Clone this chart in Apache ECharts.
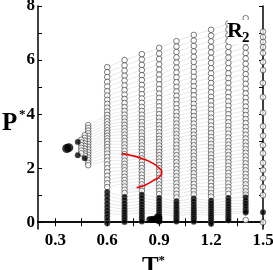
<!DOCTYPE html>
<html><head><meta charset="utf-8">
<script src="https://cdn.jsdelivr.net/npm/echarts@6/dist/echarts.min.js"></script>
<style>html,body{margin:0;padding:0;background:#fff}#c{width:273px;height:270px}</style>
</head><body><div id="c"></div>
<script>
// ---- data ----
const X_TICK_LABELS = [0.3, 0.6, 0.9, 1.2, 1.5];
const X_TICKS = [0.3, 0.45, 0.6, 0.75, 0.9, 1.05, 1.2, 1.35, 1.5];
const Y_TICK_LABELS = [0, 2, 4, 6, 8];
const Y_TICKS = [0, 1, 2, 3, 4, 5, 6, 7, 8];

const open_T06 = [5.74,5.55,5.37,5.19,5.02,4.85,4.69,4.53,4.38,4.24,4.1,3.97,3.85,3.73,3.62,3.51,3.4,3.3,3.2,3.1,3.0,2.89,2.78,2.66,2.54,2.41,2.28,2.14,2.0,1.86,1.72,1.58,1.44,1.3];
const fill_T06 = [1.12,0.98,0.84,0.7,0.57,0.44,0.32,0.2,0.08,-0.04];
const open_T07 = [6.0,5.8,5.61,5.42,5.24,5.06,4.89,4.72,4.56,4.41,4.26,4.12,3.98,3.85,3.72,3.6,3.48,3.36,3.24,3.12,3.0,2.88,2.76,2.64,2.52,2.4,2.28,2.16,2.04,1.92,1.8,1.68,1.56,1.44,1.32,1.2,1.08];
const fill_T07 = [0.94,0.82,0.7,0.59,0.48,0.38,0.28,0.19,0.1,0.01];
const open_T08 = [6.22,6.02,5.82,5.63,5.44,5.26,5.08,4.91,4.74,4.58,4.42,4.27,4.12,3.98,3.84,3.71,3.58,3.45,3.32,3.2,3.08,2.96,2.84,2.72,2.6,2.48,2.36,2.24,2.12,2.0,1.88,1.76,1.64,1.52,1.4,1.28,1.16];
const fill_T08 = [1.02,0.9,0.78,0.67,0.56,0.46,0.36,0.27,0.18,0.1,0.03];
const open_T09 = [6.45,6.24,6.04,5.84,5.65,5.46,5.28,5.1,4.93,4.76,4.6,4.44,4.29,4.14,4.0,3.86,3.72,3.59,3.46,3.33,3.2,3.08,2.96,2.84,2.72,2.6,2.48,2.36,2.24,2.12,2.0,1.88,1.76,1.64,1.52,1.4,1.28,1.16,1.04];
const fill_T09 = [0.9,0.79,0.68,0.58,0.48,0.39,0.3,0.22,0.14,0.07];
const open_T10 = [6.7,6.5,6.3,6.1,5.91,5.72,5.54,5.36,5.18,5.01,4.84,4.68,4.52,4.37,4.22,4.07,3.93,3.79,3.65,3.52,3.39,3.26,3.13,3.0,2.87,2.74,2.61,2.48,2.35,2.22,2.09,1.96,1.83,1.7,1.57,1.44,1.31,1.18,1.05,0.92];
const fill_T10 = [0.78,0.68,0.58,0.49,0.4,0.32,0.24,0.17,0.1,0.03];
const open_T11 = [6.93,6.72,6.52,6.32,6.12,5.93,5.74,5.56,5.38,5.2,5.03,4.86,4.7,4.54,4.38,4.23,4.08,3.93,3.79,3.65,3.51,3.37,3.24,3.11,2.98,2.85,2.72,2.59,2.46,2.33,2.2,2.07,1.94,1.81,1.68,1.55,1.42,1.29,1.16,1.03];
const fill_T11 = [0.88,0.77,0.66,0.56,0.47,0.38,0.3,0.22,0.15,0.08,0.02];
const open_T12 = [7.12,6.9,6.69,6.48,6.28,6.08,5.89,5.7,5.51,5.33,5.15,4.98,4.81,4.64,4.48,4.32,4.17,4.02,3.87,3.72,3.58,3.44,3.3,3.16,3.03,2.9,2.77,2.64,2.51,2.38,2.25,2.12,1.99,1.86,1.73,1.6,1.47,1.34,1.21,1.08,0.95];
const fill_T12 = [0.8,0.7,0.6,0.51,0.42,0.34,0.26,0.18,0.1,0.02,-0.06];
const open_T13 = [7.35,7.13,6.91,6.7,6.49,6.29,6.09,5.89,5.7,5.51,5.33,5.15,4.97,4.8,4.63,4.47,4.31,4.15,4.0,3.85,3.7,3.56,3.42,3.28,3.14,3.0,2.87,2.74,2.61,2.48,2.35,2.22,2.09,1.96,1.83,1.7,1.57,1.44,1.31,1.18,1.05];
const fill_T13 = [0.9,0.79,0.68,0.58,0.48,0.39,0.3,0.22,0.14,0.07];
const open_T14 = [7.55,7.32,7.1,6.88,6.67,6.46,6.26,6.06,5.86,5.67,5.48,5.3,5.12,4.94,4.77,4.6,4.44,4.28,4.12,3.97,3.82,3.67,3.52,3.38,3.24,3.1,2.96,2.83,2.7,2.57,2.44,2.31,2.18,2.05,1.92,1.79,1.66,1.53,1.4,1.27,1.14,1.02,0.08];
const fill_T14 = [0.92,0.8,0.7,0.6,0.5,0.42,0.36];
const open_T15 = [7.05,6.85,6.67,6.48,6.26,5.93,5.63,5.15,4.63,4.05,3.55,3.2,2.85,2.55,2.2,1.93,1.63,1.3,1.0,0.0];
const fill_T15 = [0.37];

// low-temperature cluster
const open_T049 = [3.59,3.49,3.39,3.29,3.19,3.09,2.99,2.89,2.79,2.69,2.59,2.49,2.39,2.3,2.2,2.11];
const open_T047 = [3.22,3.12,3.02,2.92,2.82,2.72,2.62,2.54,2.46];
const fill_T047 = [2.37];
const open_T045 = [3.05,2.95,2.85,2.75,2.65,2.55];
const fill_T043 = [2.97,2.48];
const bigDotT = [0.366, 0.378];
const bigDotP = [2.73, 2.76];
// filled wedge near T=0.9, P~0.1
const blobT = [0.845,0.855,0.865,0.875,0.885,0.895,0.9,0.9,0.89];
const blobP = [0.1,0.1,0.12,0.1,0.14,0.1,0.16,0.04,0.2];

// red boundary curve
const redT = [0.684,0.74,0.8,0.867,0.9,0.915,0.905,0.867,0.818,0.77];
const redP = [2.54,2.47,2.36,2.17,2.0,1.86,1.7,1.55,1.37,1.28];

// ---- build ----
const openCols = [[0.6,open_T06],[0.7,open_T07],[0.8,open_T08],[0.9,open_T09],[1.0,open_T10],[1.1,open_T11],[1.2,open_T12],[1.3,open_T13],[1.4,open_T14],[1.5,open_T15],[0.49,open_T049],[0.47,open_T047],[0.45,open_T045]];
const fillCols = [[0.6,fill_T06],[0.7,fill_T07],[0.8,fill_T08],[0.9,fill_T09],[1.0,fill_T10],[1.1,fill_T11],[1.2,fill_T12],[1.3,fill_T13],[1.4,fill_T14],[1.5,fill_T15],[0.47,fill_T047],[0.43,fill_T043]];
const openData = [], fillData = [];
openCols.forEach(([t, arr]) => arr.forEach(p => openData.push([t, p])));
fillCols.forEach(([t, arr]) => arr.forEach(p => fillData.push([t, p])));
const blobData = blobT.map((t, i) => [t, blobP[i]]);

const series = [];
const faint = {color:'rgba(0,0,0,0.11)', width:0.8};
const lineCols = openCols.slice(0, 9);
const maxLen = Math.max(...lineCols.map(c => c[1].length));
for (let i = 0; i < maxLen; i++) {
  const d = lineCols.filter(c => c[1][i] !== undefined && c[1][i] > 0.5).map(c => [c[0], c[1][i]]);
  if (d.length > 1) series.push({type:'line', data:d, symbol:'none', silent:true, z:1, lineStyle:faint});
}
for (let i = 0; i < open_T049.length; i++) {
  const j = i + 11;
  if (open_T06[j] === undefined) continue;
  series.push({type:'line', data:[[0.49, open_T049[i]], [0.6, open_T06[j]]], symbol:'none', silent:true, z:1, lineStyle:faint});
}
const fillLineCols = fillCols.slice(0, 9);
for (let i = 0; i < 7; i++) {
  const d = fillLineCols.filter(c => c[1][i] !== undefined).map(c => [c[0], c[1][i]]);
  if (d.length > 1) series.push({type:'line', data:d, symbol:'none', silent:true, z:1, lineStyle:faint});
}
series.push({type:'scatter', data:openData, symbol:'circle', symbolSize:5.6, z:3,
  itemStyle:{color:'#fff', borderColor:'#333', borderWidth:0.8}});
series.push({type:'scatter', data:fillData, symbol:'circle', symbolSize:5.8, z:4,
  itemStyle:{color:'#000', borderColor:'#888', borderWidth:0.4}});
series.push({type:'scatter', data:blobData, symbol:'circle', symbolSize:6.5, z:4,
  itemStyle:{color:'#000'}});
series.push({type:'scatter', data:bigDotT.map((t,i)=>[t, bigDotP[i]]), symbol:'circle', symbolSize:9, z:4,
  itemStyle:{color:'#000'}});
series.push({type:'line', data:redT.map((t,i)=>[t, redP[i]]), smooth:true, symbol:'none', z:5,
  lineStyle:{color:'#ee0000', width:1.6}});

const FONT = 'Liberation Serif';
const axisCommon = {
  axisLine:{show:true, lineStyle:{color:'#000', width:1.5}},
  splitLine:{show:false},
};
const tickStyle = {show:true, inside:true, length:4, lineStyle:{color:'#000', width:1}};
const chart = echarts.init(document.getElementById('c'), null, {renderer:'canvas'});
chart.setOption({
  animation:false,
  backgroundColor:'#fff',
  grid:{left:38, right:10, top:6, bottom:41, containLabel:false, outerBoundsMode:'none'},
  xAxis:[
    Object.assign({type:'value', min:0.2, max:1.5, position:'bottom',
      name:'{t|T}{s|*}', nameLocation:'middle', nameGap:14,
      nameTextStyle:{rich:{t:{fontFamily:FONT, fontWeight:'bold', fontSize:25, color:'#000', padding:[0,0,0,6]},
                           s:{fontFamily:FONT, fontWeight:'bold', fontSize:13, color:'#000', verticalAlign:'top', padding:[0,0,14,0]}}},
      axisTick:Object.assign({customValues:X_TICKS}, tickStyle),
      axisLabel:{show:true, margin:3, hideOverlap:false, customValues:X_TICK_LABELS, formatter:v=>Number(v).toFixed(1),
        color:'#000', fontFamily:FONT, fontWeight:'bold', fontSize:17}}, axisCommon),
    Object.assign({type:'value', min:0.2, max:1.5, position:'top',
      axisTick:Object.assign({customValues:X_TICKS}, tickStyle),
      axisLabel:{show:false}}, axisCommon)
  ],
  yAxis:[
    Object.assign({type:'value', min:-0.25, max:8, position:'left',
      axisTick:Object.assign({customValues:Y_TICKS}, tickStyle),
      axisLabel:{show:true, margin:3, hideOverlap:false, customValues:Y_TICK_LABELS, formatter:v=>String(v),
        color:'#000', fontFamily:FONT, fontWeight:'bold', fontSize:17}}, axisCommon),
    Object.assign({type:'value', min:-0.25, max:8, position:'right',
      axisTick:Object.assign({customValues:Y_TICKS}, tickStyle),
      axisLabel:{show:false}}, axisCommon)
  ],
  series: series,
  graphic:[
    {type:'rect', shape:{x:228, y:20, width:24, height:24}, style:{fill:'#fff'}, z:100},
    {type:'text', x:227, y:31, z:101, style:{text:'R', fill:'#000', font:'bold 22px "Liberation Serif"', verticalAlign:'middle'}},
    {type:'text', x:242, y:38, z:101, style:{text:'2', fill:'#000', font:'bold 15px "Liberation Serif"', verticalAlign:'middle'}},
    {type:'text', x:2, y:124, z:101, style:{text:'P', fill:'#000', font:'bold 25px "Liberation Serif"', verticalAlign:'middle'}},
    {type:'text', x:19, y:115, z:101, style:{text:'*', fill:'#000', font:'bold 13px "Liberation Serif"', verticalAlign:'middle'}}
  ]
});
</script></body></html>
